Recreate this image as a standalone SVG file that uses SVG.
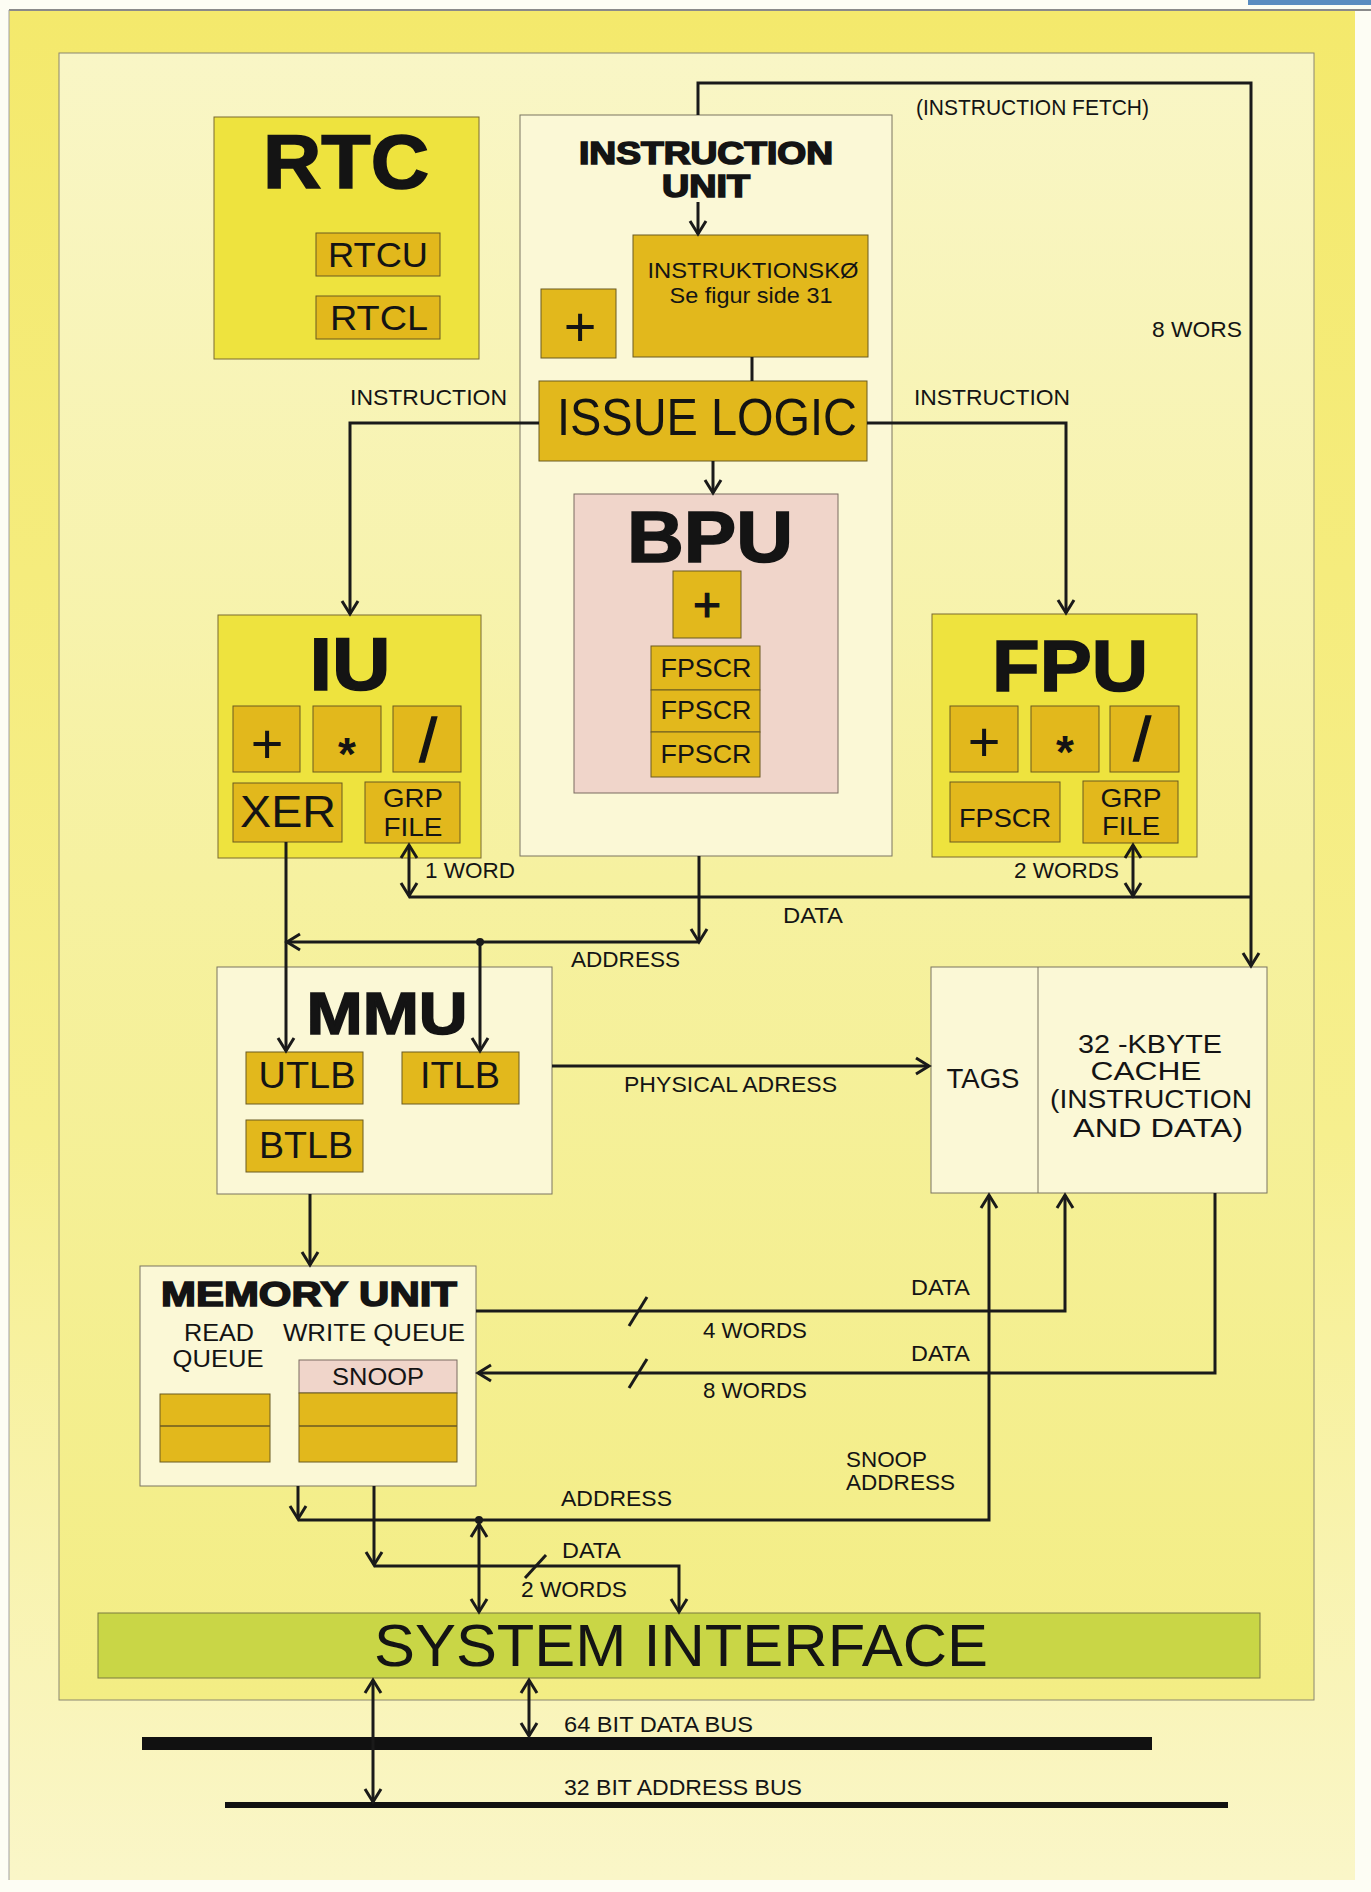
<svg xmlns="http://www.w3.org/2000/svg" width="1371" height="1892" viewBox="0 0 1371 1892">
<defs>
<style>
text{font-family:"Liberation Sans",Arial,sans-serif;fill:#141414}
.lbl{font-size:22px}
.ttl{font-weight:bold;stroke:#141414;stroke-width:1.6px}
.mid{text-anchor:middle}
.cream{fill:#fbf8d6;stroke:#7a7560;stroke-width:1}
.yel{fill:#eee33e;stroke:#7a6a30;stroke-width:1}
.gold{fill:#e2b81c;stroke:#6b5a20;stroke-width:1}
.pink{fill:#f0d5ca;stroke:#7a6a60;stroke-width:1}
.ln{fill:none;stroke:#1a1a1a;stroke-width:3}
.ar{marker-end:url(#arr)}
.ar2{marker-start:url(#arr);marker-end:url(#arr)}
.op{font-size:56px}
</style>
<marker id="arr" markerUnits="userSpaceOnUse" markerWidth="22" markerHeight="22" viewBox="0 0 22 22" refX="16" refY="11" orient="auto-start-reverse">
<path d="M3,3 L16,11 L3,19" fill="none" stroke="#1a1a1a" stroke-width="3"/>
</marker>
<linearGradient id="pg" x1="0" y1="0" x2="0" y2="1">
<stop offset="0" stop-color="#f4e96c"/>
<stop offset="0.6" stop-color="#f6ef8e"/>
<stop offset="1" stop-color="#faf6c8"/>
</linearGradient>
<linearGradient id="ip" x1="0" y1="0" x2="0" y2="1">
<stop offset="0" stop-color="#f9f6c6"/>
<stop offset="0.5" stop-color="#f6f1a0"/>
<stop offset="1" stop-color="#f3ed84"/>
</linearGradient>
</defs>

<g id="background">
<rect x="0" y="0" width="1371" height="1892" fill="#fdfdf4"/>
<rect x="9" y="11" width="1346" height="1869" fill="url(#pg)"/>
<line x1="9" y1="10" x2="1371" y2="10" stroke="#8a8a8a" stroke-width="2"/>
<line x1="9" y1="10" x2="9" y2="1880" stroke="#a0a0a0" stroke-width="1"/>
<rect x="1248" y="0" width="123" height="5" fill="#5a8cc0"/>
<rect x="59" y="53" width="1255" height="1647" fill="url(#ip)" stroke="#8a8670" stroke-width="1"/>
</g>

<g id="node-rtc">
<rect class="yel" x="214" y="117" width="265" height="242"/>
<text class="ttl mid" x="346" y="188" font-size="76" textLength="166" lengthAdjust="spacingAndGlyphs">RTC</text>
<rect class="gold" x="316" y="233" width="124" height="43"/>
<text class="mid" x="378" y="267" font-size="35" textLength="100" lengthAdjust="spacingAndGlyphs">RTCU</text>
<rect class="gold" x="316" y="296" width="124" height="43"/>
<text class="mid" x="379" y="330" font-size="35" textLength="98" lengthAdjust="spacingAndGlyphs">RTCL</text>
</g>

<g id="node-instruction-unit">
<rect class="cream" x="520" y="115" width="372" height="741"/>
<text class="ttl mid" x="706" y="164" font-size="31" textLength="254" lengthAdjust="spacingAndGlyphs">INSTRUCTION</text>
<text class="ttl mid" x="706" y="197" font-size="31" textLength="88" lengthAdjust="spacingAndGlyphs">UNIT</text>
</g>

<g id="node-instruktionsko">
<rect class="gold" x="633" y="235" width="235" height="122"/>
<text class="mid" x="753" y="278" font-size="22" textLength="211" lengthAdjust="spacingAndGlyphs">INSTRUKTIONSKØ</text>
<text class="mid" x="751" y="303" font-size="22" textLength="163" lengthAdjust="spacingAndGlyphs">Se figur side 31</text>
</g>

<g id="node-iu-plus">
<rect class="gold" x="541" y="289" width="75" height="69"/>
<text class="mid op" x="580" y="346">+</text>
</g>

<g id="node-issue-logic">
<rect class="gold" x="539" y="381" width="328" height="80"/>
<text class="mid" x="707" y="435" font-size="51" textLength="300" lengthAdjust="spacingAndGlyphs">ISSUE LOGIC</text>
</g>

<g id="node-bpu">
<rect class="pink" x="574" y="494" width="264" height="299"/>
<text class="ttl mid" x="710" y="562" font-size="72" textLength="166" lengthAdjust="spacingAndGlyphs">BPU</text>
<rect class="gold" x="673" y="571" width="68" height="67"/>
<text class="mid" x="707" y="621" font-size="48" stroke="#141414" stroke-width="1.2">+</text>
<rect class="gold" x="651" y="646" width="109" height="44"/>
<rect class="gold" x="651" y="690" width="109" height="42"/>
<rect class="gold" x="651" y="732" width="109" height="45"/>
<text class="mid" x="706" y="677" font-size="25" textLength="91" lengthAdjust="spacingAndGlyphs">FPSCR</text>
<text class="mid" x="706" y="719" font-size="25" textLength="91" lengthAdjust="spacingAndGlyphs">FPSCR</text>
<text class="mid" x="706" y="763" font-size="25" textLength="91" lengthAdjust="spacingAndGlyphs">FPSCR</text>
</g>

<g id="node-iu">
<rect class="yel" x="218" y="615" width="263" height="243"/>
<text class="ttl mid" x="350" y="690" font-size="75" textLength="81" lengthAdjust="spacingAndGlyphs">IU</text>
<rect class="gold" x="233" y="706" width="67" height="66"/>
<rect class="gold" x="313" y="706" width="68" height="66"/>
<rect class="gold" x="393" y="706" width="68" height="66"/>
<text class="mid op" x="267" y="763">+</text>
<text class="mid" x="347" y="770" font-size="46" font-weight="bold">*</text>
<text class="mid" x="428" y="761" font-size="62" stroke="#141414" stroke-width="1.5">/</text>
<rect class="gold" x="233" y="783" width="109" height="59"/>
<text class="mid" x="288" y="827" font-size="44" textLength="96" lengthAdjust="spacingAndGlyphs">XER</text>
<rect class="gold" x="365" y="782" width="95" height="61"/>
<text class="mid" x="413" y="807" font-size="25" textLength="60" lengthAdjust="spacingAndGlyphs">GRP</text>
<text class="mid" x="413" y="836" font-size="25" textLength="59" lengthAdjust="spacingAndGlyphs">FILE</text>
</g>

<g id="node-fpu">
<rect class="yel" x="932" y="614" width="265" height="243"/>
<text class="ttl mid" x="1070" y="691" font-size="73" textLength="156" lengthAdjust="spacingAndGlyphs">FPU</text>
<rect class="gold" x="950" y="706" width="68" height="66"/>
<rect class="gold" x="1031" y="706" width="68" height="66"/>
<rect class="gold" x="1110" y="706" width="69" height="66"/>
<text class="mid op" x="984" y="761">+</text>
<text class="mid" x="1065" y="768" font-size="46" font-weight="bold">*</text>
<text class="mid" x="1142" y="760" font-size="62" stroke="#141414" stroke-width="1.5">/</text>
<rect class="gold" x="950" y="782" width="110" height="60"/>
<text class="mid" x="1005" y="827" font-size="25" textLength="92" lengthAdjust="spacingAndGlyphs">FPSCR</text>
<rect class="gold" x="1083" y="781" width="95" height="62"/>
<text class="mid" x="1131" y="807" font-size="25" textLength="61" lengthAdjust="spacingAndGlyphs">GRP</text>
<text class="mid" x="1131" y="835" font-size="25" textLength="58" lengthAdjust="spacingAndGlyphs">FILE</text>
</g>

<g id="node-mmu">
<rect class="cream" x="217" y="967" width="335" height="227"/>
<text class="ttl mid" x="387" y="1034" font-size="60" textLength="161" lengthAdjust="spacingAndGlyphs">MMU</text>
<rect class="gold" x="246" y="1052" width="117" height="52"/>
<text class="mid" x="307" y="1088" font-size="37" textLength="97" lengthAdjust="spacingAndGlyphs">UTLB</text>
<rect class="gold" x="402" y="1052" width="117" height="52"/>
<text class="mid" x="460" y="1088" font-size="37" textLength="80" lengthAdjust="spacingAndGlyphs">ITLB</text>
<rect class="gold" x="246" y="1120" width="117" height="52"/>
<text class="mid" x="306" y="1158" font-size="37" textLength="94" lengthAdjust="spacingAndGlyphs">BTLB</text>
</g>

<g id="node-cache">
<rect class="cream" x="931" y="967" width="336" height="226"/>
<line x1="1038" y1="967" x2="1038" y2="1193" stroke="#7a7560" stroke-width="1"/>
<text class="mid" x="983" y="1088" font-size="27" textLength="73" lengthAdjust="spacingAndGlyphs">TAGS</text>
<text class="mid" x="1150" y="1053" font-size="26" textLength="144" lengthAdjust="spacingAndGlyphs">32 -KBYTE</text>
<text class="mid" x="1146" y="1080" font-size="26" textLength="111" lengthAdjust="spacingAndGlyphs">CACHE</text>
<text class="mid" x="1151" y="1108" font-size="26" textLength="202" lengthAdjust="spacingAndGlyphs">(INSTRUCTION</text>
<text class="mid" x="1158" y="1137" font-size="26" textLength="170" lengthAdjust="spacingAndGlyphs">AND DATA)</text>
</g>

<g id="node-memory-unit">
<rect class="cream" x="140" y="1266" width="336" height="220"/>
<text class="ttl mid" x="309" y="1306" font-size="35" textLength="296" lengthAdjust="spacingAndGlyphs">MEMORY UNIT</text>
<text class="mid" x="219" y="1341" font-size="24" textLength="70" lengthAdjust="spacingAndGlyphs">READ</text>
<text class="mid" x="218" y="1367" font-size="24" textLength="91" lengthAdjust="spacingAndGlyphs">QUEUE</text>
<text class="mid" x="374" y="1341" font-size="24" textLength="182" lengthAdjust="spacingAndGlyphs">WRITE QUEUE</text>
<rect class="pink" x="299" y="1360" width="158" height="33"/>
<text class="mid" x="378" y="1385" font-size="24" textLength="92" lengthAdjust="spacingAndGlyphs">SNOOP</text>
<rect class="gold" x="299" y="1393" width="158" height="69"/>
<line x1="299" y1="1426" x2="457" y2="1426" stroke="#6b5a20" stroke-width="1.5"/>
<rect class="gold" x="160" y="1394" width="110" height="68"/>
<line x1="160" y1="1426" x2="270" y2="1426" stroke="#6b5a20" stroke-width="1.5"/>
</g>

<g id="node-system-interface">
<rect x="98" y="1613" width="1162" height="65" fill="#c9d646" stroke="#7a7a40" stroke-width="1"/>
<text class="mid" x="681" y="1666" font-size="60" textLength="614" lengthAdjust="spacingAndGlyphs">SYSTEM INTERFACE</text>
</g>

<g id="node-buses">
<rect x="142" y="1737" width="1010" height="13" fill="#111"/>
<rect x="225" y="1802" width="1003" height="6" fill="#111"/>
</g>

<g id="connectors">
<path class="ln ar" d="M698,115 V83 H1251 V966"/>
<path class="ln ar" d="M698,202 V234"/>
<path class="ln" d="M752,357 V381"/>
<path class="ln ar" d="M539,423 H350 V614"/>
<path class="ln ar" d="M867,423 H1066 V613"/>
<path class="ln ar" d="M713,461 V493"/>
<path class="ln ar" d="M699,856 V942"/>
<path class="ln ar" d="M699,942 H287"/>
<path class="ln ar" d="M286,842 V1051"/>
<circle cx="480" cy="942" r="4" fill="#1a1a1a"/>
<path class="ln ar" d="M480,942 V1051"/>
<path class="ln ar2" d="M409,845 V896"/>
<path class="ln" d="M409,897 H1251"/>
<path class="ln ar2" d="M1133,845 V896"/>
<path class="ln ar" d="M552,1066 H929"/>
<path class="ln ar" d="M310,1194 V1265"/>
<path class="ln ar" d="M476,1311 H1065 V1195"/>
<path class="ln ar" d="M1215,1193 V1373 H478"/>
<path class="ln ar" d="M298,1486 V1519"/>
<path class="ln ar" d="M298,1520 H989 V1195"/>
<path class="ln ar" d="M374,1486 V1565"/>
<path class="ln ar" d="M374,1566 H679 V1612"/>
<circle cx="479" cy="1520" r="4" fill="#1a1a1a"/>
<path class="ln ar2" d="M479,1524 V1612"/>
<path class="ln ar2" d="M373,1680 V1802"/>
<path class="ln ar2" d="M529,1680 V1736"/>
<path class="ln" d="M629,1326 L647,1297"/>
<path class="ln" d="M629,1388 L647,1359"/>
<path class="ln" d="M525,1578 L546,1555"/>
</g>

<g id="connector-labels" class="lbl">
<text x="916" y="115" textLength="233" lengthAdjust="spacingAndGlyphs">(INSTRUCTION FETCH)</text>
<text x="1152" y="337" textLength="90" lengthAdjust="spacingAndGlyphs">8 WORS</text>
<text x="350" y="405" textLength="157" lengthAdjust="spacingAndGlyphs">INSTRUCTION</text>
<text x="914" y="405" textLength="156" lengthAdjust="spacingAndGlyphs">INSTRUCTION</text>
<text x="425" y="878" textLength="90" lengthAdjust="spacingAndGlyphs">1 WORD</text>
<text x="1014" y="878" textLength="105" lengthAdjust="spacingAndGlyphs">2 WORDS</text>
<text x="783" y="923" textLength="60" lengthAdjust="spacingAndGlyphs">DATA</text>
<text x="571" y="967" textLength="109" lengthAdjust="spacingAndGlyphs">ADDRESS</text>
<text x="624" y="1092" textLength="213" lengthAdjust="spacingAndGlyphs">PHYSICAL ADRESS</text>
<text x="911" y="1295" textLength="59" lengthAdjust="spacingAndGlyphs">DATA</text>
<text x="703" y="1338" textLength="104" lengthAdjust="spacingAndGlyphs">4 WORDS</text>
<text x="911" y="1361" textLength="59" lengthAdjust="spacingAndGlyphs">DATA</text>
<text x="703" y="1398" textLength="104" lengthAdjust="spacingAndGlyphs">8 WORDS</text>
<text x="846" y="1467" textLength="81" lengthAdjust="spacingAndGlyphs">SNOOP</text>
<text x="846" y="1490" textLength="109" lengthAdjust="spacingAndGlyphs">ADDRESS</text>
<text x="561" y="1506" textLength="111" lengthAdjust="spacingAndGlyphs">ADDRESS</text>
<text x="562" y="1558" textLength="59" lengthAdjust="spacingAndGlyphs">DATA</text>
<text x="521" y="1597" textLength="106" lengthAdjust="spacingAndGlyphs">2 WORDS</text>
<text x="564" y="1732" textLength="189" lengthAdjust="spacingAndGlyphs">64 BIT DATA BUS</text>
<text x="564" y="1795" textLength="238" lengthAdjust="spacingAndGlyphs">32 BIT ADDRESS BUS</text>
</g>
</svg>
